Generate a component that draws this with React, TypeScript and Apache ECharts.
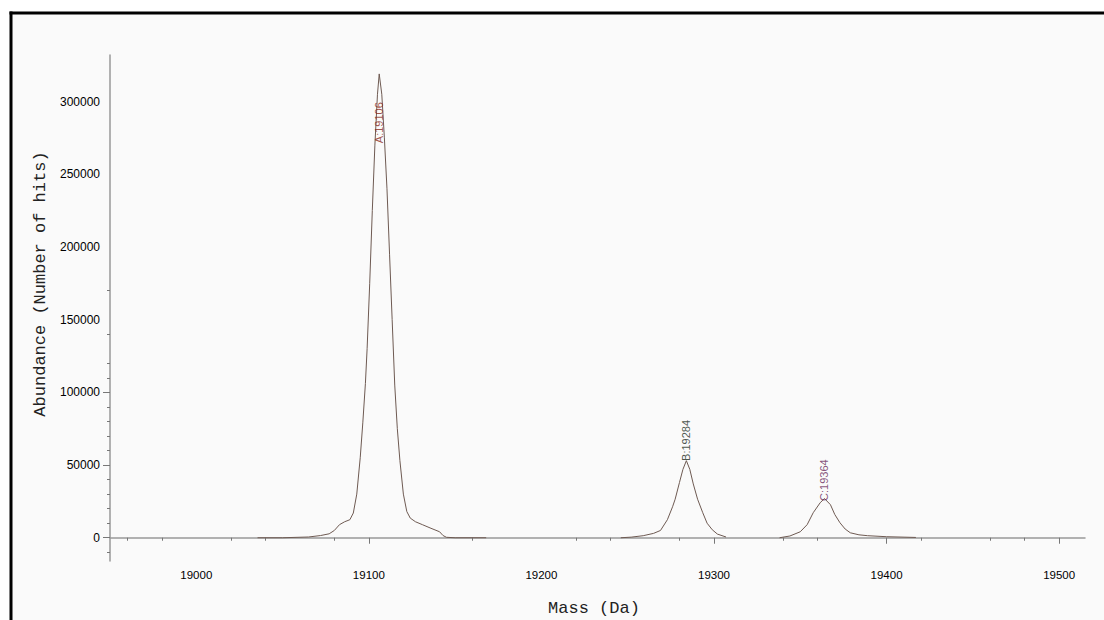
import React, { useEffect, useRef } from "react";
import * as echarts from "echarts";

// Peak A
const massA = [19035.5, 19050, 19065, 19072, 19077, 19080, 19083, 19086, 19089, 19091, 19093, 19095, 19096.5, 19098, 19099, 19100.5, 19102, 19103.5, 19105, 19106, 19107.5, 19109, 19110.5, 19112, 19113.5, 19115, 19116.5, 19118, 19120, 19122, 19124, 19127, 19131, 19136, 19141, 19143, 19145, 19150, 19168];
const abundA = [0, 0, 500, 1500, 2700, 5000, 9000, 11000, 12400, 17000, 30000, 55000, 79000, 106000, 130000, 175000, 225000, 270000, 305000, 319000, 305000, 275000, 240000, 195000, 150000, 105000, 75000, 53000, 30000, 18000, 13500, 11000, 9000, 6500, 4100, 1500, 300, 0, 0];
// Peak B
const massB = [19246, 19252, 19259, 19265, 19269, 19273, 19276, 19277.5, 19280, 19282, 19284, 19286, 19288, 19290.5, 19293.5, 19296, 19299, 19302, 19307];
const abundB = [0, 400, 1400, 3000, 5000, 12400, 21300, 26500, 38000, 47000, 53000, 47000, 37000, 26500, 17200, 10000, 5500, 2500, 500];
// Peak C
const massC = [19338, 19344, 19350, 19354, 19357.5, 19361.5, 19364, 19367.5, 19370, 19373, 19376, 19379, 19384, 19389, 19400, 19417];
const abundC = [0, 1200, 4100, 9000, 17200, 24000, 27000, 22700, 16000, 10300, 6000, 3400, 2000, 1400, 700, 200];

const peakMasses = [19106, 19284, 19364];
const peakLabelNames = ["A:19106", "B:19284", "C:19364"];
const peakLabelBase = [271000, 52500, 25000];
const peakLabelColors = ["#8a2a1c", "#1c2a1c", "#6a2a5a"];

const xLabelValues = [19000, 19100, 19200, 19300, 19400, 19500];
const xMajorTicks = [19100, 19300, 19400, 19500];
const xMinorTicks = [18960, 18980, 19020, 19040, 19080, 19160, 19220, 19240, 19280, 19340, 19360, 19420, 19460, 19480];
const yLabelValues = [0, 50000, 100000, 150000, 200000, 250000, 300000];
const yMajorTicks = [0, 50000, 100000];
const yMinorTicks = [-10000, 10000, 20000, 30000, 40000, 60000, 70000, 80000, 90000, 110000, 120000, 140000, 170000];

const X_MIN = 18950;
const X_MAX = 19515;
const Y_MIN = -16000;
const Y_MAX = 332000;

const zip = (a: number[], b: number[]) => a.map((v, i) => [v, b[i]]);

export default function App() {
  const ref = useRef<HTMLDivElement>(null);
  useEffect(() => {
    document.body.style.margin = "0";
    const chart = echarts.init(ref.current!, null, { renderer: "svg" });
    const axisLineColor = "#999";
    const tickColor = "#777";
    const lineStyle = { color: "#6e5a52", width: 1 };
    const plain = (v: number) => String(v);
    chart.setOption({
      animation: false,
      backgroundColor: "#fafafa",
      grid: { left: 110, top: 55, right: 19, bottom: 59, containLabel: false },
      xAxis: [
        {
          type: "value",
          min: X_MIN,
          max: X_MAX,
          position: "bottom",
          axisLine: { show: true, lineStyle: { color: axisLineColor, width: 1.5 } },
          axisTick: { show: true, customValues: xMajorTicks, length: 6, lineStyle: { color: tickColor, width: 1 } },
          axisLabel: { customValues: xLabelValues, formatter: plain, color: "#000", fontSize: 11.5, fontFamily: "Arial, Liberation Sans", margin: 8 },
          splitLine: { show: false },
        },
        {
          type: "value",
          min: X_MIN,
          max: X_MAX,
          position: "bottom",
          offset: 0,
          axisLine: { show: false },
          axisTick: { show: true, customValues: xMinorTicks, length: 3, lineStyle: { color: tickColor, width: 1 } },
          axisLabel: { show: false },
          splitLine: { show: false },
        },
      ],
      yAxis: [
        {
          type: "value",
          min: Y_MIN,
          max: Y_MAX,
          position: "left",
          axisLine: { show: true, lineStyle: { color: axisLineColor, width: 1.5 } },
          axisTick: { show: true, customValues: yMajorTicks, length: 7, lineStyle: { color: tickColor, width: 1 } },
          axisLabel: { customValues: yLabelValues, formatter: plain, color: "#000", fontSize: 12, fontFamily: "Arial, Liberation Sans", margin: 10 },
          splitLine: { show: false },
        },
        {
          type: "value",
          min: Y_MIN,
          max: Y_MAX,
          position: "left",
          offset: 0,
          axisLine: { show: false },
          axisTick: { show: true, customValues: yMinorTicks, length: 3, lineStyle: { color: tickColor, width: 1 } },
          axisLabel: { show: false },
          splitLine: { show: false },
        },
      ],
      series: [
        { type: "line", data: zip(massA, abundA), showSymbol: false, symbol: "none", lineStyle, xAxisIndex: 0, yAxisIndex: 0 },
        { type: "line", data: zip(massB, abundB), showSymbol: false, symbol: "none", lineStyle, xAxisIndex: 0, yAxisIndex: 0 },
        { type: "line", data: zip(massC, abundC), showSymbol: false, symbol: "none", lineStyle, xAxisIndex: 0, yAxisIndex: 0 },
        {
          type: "scatter",
          xAxisIndex: 0,
          yAxisIndex: 0,
          symbolSize: 1,
          itemStyle: { color: "rgba(0,0,0,0)" },
          z: 5,
          data: peakMasses.map((m, i) => ({
            value: [m, peakLabelBase[i]],
            label: {
              show: true,
              formatter: peakLabelNames[i],
              position: "top",
              distance: 0,
              rotate: 90,
              align: "left",
              verticalAlign: "middle",
              color: peakLabelColors[i],
              fontSize: 11,
              fontFamily: "Arial, Liberation Sans",
            },
          })),
        },
      ],
      graphic: [
        { type: "rect", shape: { x: 0, y: 0, width: 1104, height: 11.5 }, style: { fill: "#ffffff" }, silent: true },
        { type: "rect", shape: { x: 0, y: 0, width: 9.5, height: 620 }, style: { fill: "#ffffff" }, silent: true },
        { type: "line", shape: { x1: 9.5, y1: 13, x2: 1104, y2: 13 }, style: { stroke: "#000", lineWidth: 3 }, silent: true },
        { type: "line", shape: { x1: 11, y1: 11.5, x2: 11, y2: 620 }, style: { stroke: "#000", lineWidth: 3 }, silent: true },
        {
          type: "text",
          x: 40,
          y: 284,
          rotation: Math.PI / 2,
          style: {
            text: "Abundance (Number of hits)",
            fill: "#222",
            font: "17px 'Liberation Mono', 'Courier New', monospace",
            textAlign: "center",
            textVerticalAlign: "middle",
          },
          silent: true,
        },
        {
          type: "text",
          x: 594,
          y: 608,
          style: {
            text: "Mass (Da)",
            fill: "#222",
            font: "17px 'Liberation Mono', 'Courier New', monospace",
            textAlign: "center",
            textVerticalAlign: "middle",
          },
          silent: true,
        },
      ],
    });
    return () => chart.dispose();
  }, []);
  return <div ref={ref} style={{ width: 1104, height: 620 }} />;
}
